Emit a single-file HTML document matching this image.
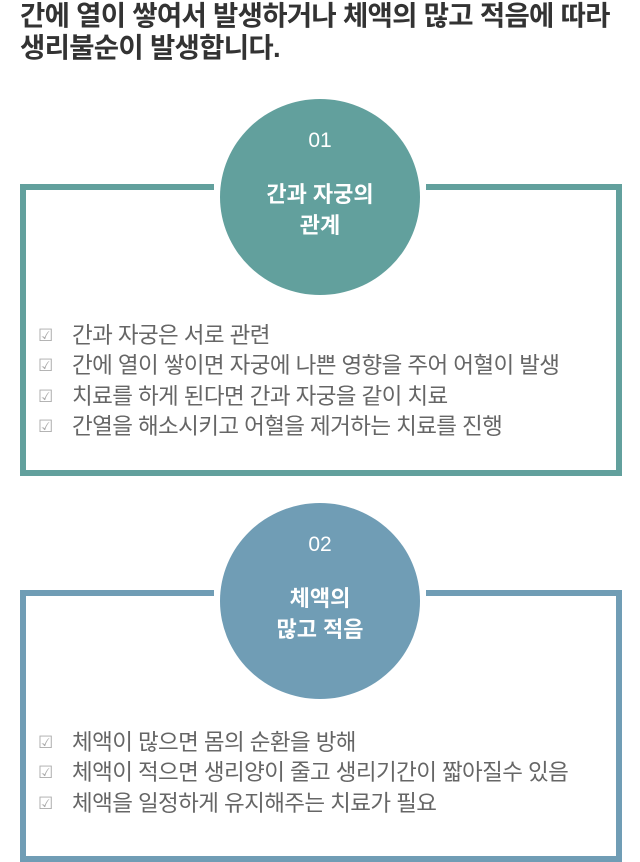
<!DOCTYPE html>
<html><head><meta charset="utf-8"><style>
body{margin:0;width:640px;height:857px;background:#fff;position:relative;overflow:hidden;font-family:"Liberation Sans","Noto Sans CJK KR",sans-serif}
.t{position:absolute;left:20px;top:0px;font-size:27.5px;font-weight:bold;color:#333;line-height:32px;letter-spacing:-0.7px;white-space:nowrap}
.box{position:absolute;left:20px;width:590px;border:6px solid}
.gap{position:absolute;left:214px;width:212px;height:10px;background:#fff}
.c{position:absolute;left:220px;width:200px;height:196px;border-radius:50%;color:#fff;text-align:center}
.c .n{position:absolute;top:30px;width:100%;font-size:21px}
.c .h{position:absolute;top:80px;width:100%;font-size:22px;line-height:31px;font-weight:bold}
.l{position:absolute;left:38px;font-size:22.5px;color:#666;letter-spacing:-0.6px}
.l div{white-space:nowrap;height:30.3px;line-height:30px}
.l span{display:inline-block;width:34px;color:#aaa;font-size:17px;vertical-align:top}
</style></head><body>
<div class="t">간에 열이 쌓여서 발생하거나 체액의 많고 적음에 따라<br>생리불순이 발생합니다.</div>

<div class="box" style="top:184px;height:280px;border-color:#62a09d"></div>
<div class="gap" style="top:182px"></div>
<div class="c" style="top:99px;background:#62a09d"><div class="n">01</div><div class="h">간과 자궁의<br>관계</div></div>
<div class="l" style="top:321px"><div><span>☑</span>간과 자궁은 서로 관련</div><div><span>☑</span>간에 열이 쌓이면 자궁에 나쁜 영향을 주어 어혈이 발생</div><div><span>☑</span>치료를 하게 된다면 간과 자궁을 같이 치료</div><div><span>☑</span>간열을 해소시키고 어혈을 제거하는 치료를 진행</div></div>

<div class="box" style="top:590px;height:260px;border-color:#709db5"></div>
<div class="gap" style="top:588px"></div>
<div class="c" style="top:503px;background:#709db5"><div class="n">02</div><div class="h">체액의<br>많고 적음</div></div>
<div class="l" style="top:728px"><div><span>☑</span>체액이 많으면 몸의 순환을 방해</div><div><span>☑</span>체액이 적으면 생리양이 줄고 생리기간이 짧아질수 있음</div><div><span>☑</span>체액을 일정하게 유지해주는 치료가 필요</div></div>
</body></html>
